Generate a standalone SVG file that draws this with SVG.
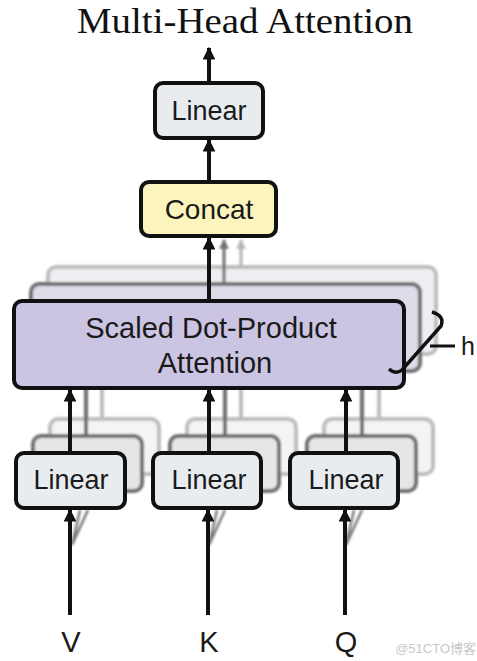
<svg xmlns="http://www.w3.org/2000/svg" width="477" height="661" viewBox="0 0 477 661">
<style>
.t{font-family:"Liberation Sans",Arial,sans-serif;fill:#1a1a1a;text-anchor:middle}
.box{stroke:#111;stroke-width:4}
.l2{stroke:#6e6e6e;stroke-width:4}
.l3{stroke:#bdbdbd;stroke-width:4}
.ar{stroke:#111;stroke-width:4;fill:none}
</style>
<defs>
<filter id="bl" x="-5%" y="-5%" width="110%" height="110%"><feGaussianBlur stdDeviation="0.9"/></filter>
<marker id="ah" viewBox="0 0 10 10" refX="9" refY="5" markerWidth="3.2" markerHeight="3.2" orient="auto" markerUnits="strokeWidth"><path d="M0,0 L10,5 L0,10 z" fill="#111"/></marker>
<marker id="ahd" viewBox="0 0 10 10" refX="9" refY="5" markerWidth="3.2" markerHeight="3.2" orient="auto" markerUnits="strokeWidth"><path d="M0,0 L10,5 L0,10 z" fill="#6e6e6e"/></marker>
<marker id="ahl" viewBox="0 0 10 10" refX="9" refY="5" markerWidth="3.2" markerHeight="3.2" orient="auto" markerUnits="strokeWidth"><path d="M0,0 L10,5 L0,10 z" fill="#b5b5b5"/></marker>
</defs>
<rect width="477" height="661" fill="#fff"/>
<text x="245" y="33" font-family="'Liberation Serif','Times New Roman',serif" font-size="36" fill="#111" text-anchor="middle" textLength="336" lengthAdjust="spacingAndGlyphs">Multi-Head Attention</text>

<g id="back-layers" filter="url(#bl)">
<rect class="l3" x="48" y="267" width="388" height="87" rx="8" fill="#efeff3"/>
<rect class="l2" x="31" y="284" width="389" height="87" rx="8" fill="#dedce8"/>
<rect class="l3" x="50" y="419" width="109" height="55" rx="8" fill="#f3f4f5"/>
<rect class="l2" x="33" y="436" width="109" height="55" rx="8" fill="#e4e6e8"/>
<rect class="l3" x="187" y="419" width="109" height="55" rx="8" fill="#f3f4f5"/>
<rect class="l2" x="170" y="436" width="109" height="55" rx="8" fill="#e4e6e8"/>
<rect class="l3" x="324" y="419" width="109" height="55" rx="8" fill="#f3f4f5"/>
<rect class="l2" x="307" y="436" width="109" height="55" rx="8" fill="#e4e6e8"/>
<line x1="102" y1="419" x2="102" y2="388" stroke="#bdbdbd" stroke-width="4"/>
<line x1="86" y1="436" x2="86" y2="388" stroke="#6e6e6e" stroke-width="4"/>
<line x1="241" y1="419" x2="241" y2="388" stroke="#bdbdbd" stroke-width="4"/>
<line x1="225" y1="436" x2="225" y2="388" stroke="#6e6e6e" stroke-width="4"/>
<line x1="379" y1="419" x2="379" y2="388" stroke="#bdbdbd" stroke-width="4"/>
<line x1="362" y1="436" x2="362" y2="388" stroke="#6e6e6e" stroke-width="4"/>
<line x1="241" y1="267" x2="241" y2="240" stroke="#b5b5b5" stroke-width="3" marker-end="url(#ahl)"/>
<line x1="224" y1="284" x2="224" y2="240" stroke="#6e6e6e" stroke-width="3" marker-end="url(#ahd)"/>
<path d="M72,545 L88,510 M72,545 L80,510" stroke="#7a7a7a" stroke-width="2.5" fill="none"/>
<path d="M209,545 L225,510 M209,545 L217,510" stroke="#7a7a7a" stroke-width="2.5" fill="none"/>
<path d="M346,545 L362,510 M346,545 L354,510" stroke="#7a7a7a" stroke-width="2.5" fill="none"/>
</g>

<g id="sdpa">
<rect class="box" x="14" y="301" width="390" height="87" rx="8" fill="#cbc4e3"/>
<text class="t" x="211" y="338" font-size="29">Scaled Dot-Product</text>
<text class="t" x="215" y="373" font-size="29">Attention</text>
</g>
<g id="h-bracket">
<path d="M432,312 Q445,316 441,326 L402,370 Q396,375 389,369" stroke="#111" stroke-width="3.5" fill="none"/>
<line x1="430" y1="346" x2="455" y2="346" stroke="#111" stroke-width="3"/>
<text class="t" x="468" y="355" font-size="25">h</text>
</g>
<g id="concat">
<rect class="box" x="141" y="182" width="135" height="54" rx="8" fill="#fbf5bd"/>
<text class="t" x="209" y="219" font-size="28">Concat</text>
</g>
<g id="linear-out">
<rect class="box" x="155" y="83" width="108" height="55" rx="8" fill="#e9ecee"/>
<text class="t" x="209" y="120" font-size="27">Linear</text>
</g>
<g id="linear-v">
<rect class="box" x="16" y="453" width="109" height="55" rx="8" fill="#e9ecee"/>
<text class="t" x="71" y="489" font-size="27">Linear</text>
</g>
<g id="linear-k">
<rect class="box" x="153" y="453" width="108" height="55" rx="8" fill="#e9ecee"/>
<text class="t" x="209" y="489" font-size="27">Linear</text>
</g>
<g id="linear-q">
<rect class="box" x="290" y="453" width="108" height="55" rx="8" fill="#e9ecee"/>
<text class="t" x="346" y="489" font-size="27">Linear</text>
</g>

<g id="connectors">
<line class="ar" x1="209" y1="81" x2="209" y2="48" marker-end="url(#ah)"/>
<line class="ar" x1="209" y1="180" x2="209" y2="140" marker-end="url(#ah)"/>
<line class="ar" x1="209" y1="299" x2="209" y2="238" marker-end="url(#ah)"/>
<line class="ar" x1="70" y1="451" x2="70" y2="390" marker-end="url(#ah)"/>
<line class="ar" x1="209" y1="451" x2="209" y2="390" marker-end="url(#ah)"/>
<line class="ar" x1="346" y1="451" x2="346" y2="390" marker-end="url(#ah)"/>
<line class="ar" x1="70" y1="615" x2="70" y2="510" marker-end="url(#ah)"/>
<line class="ar" x1="208" y1="615" x2="208" y2="510" marker-end="url(#ah)"/>
<line class="ar" x1="345" y1="615" x2="345" y2="510" marker-end="url(#ah)"/>
</g>

<g id="inputs">
<text class="t" x="71" y="652" font-size="29">V</text>
<text class="t" x="209" y="652" font-size="29">K</text>
<text class="t" x="346" y="652" font-size="29">Q</text>
</g>
<text x="476" y="653" font-family="'Liberation Sans','Noto Sans CJK SC',sans-serif" font-size="13" fill="#c9c9c9" text-anchor="end">@51CTO博客</text>
</svg>
